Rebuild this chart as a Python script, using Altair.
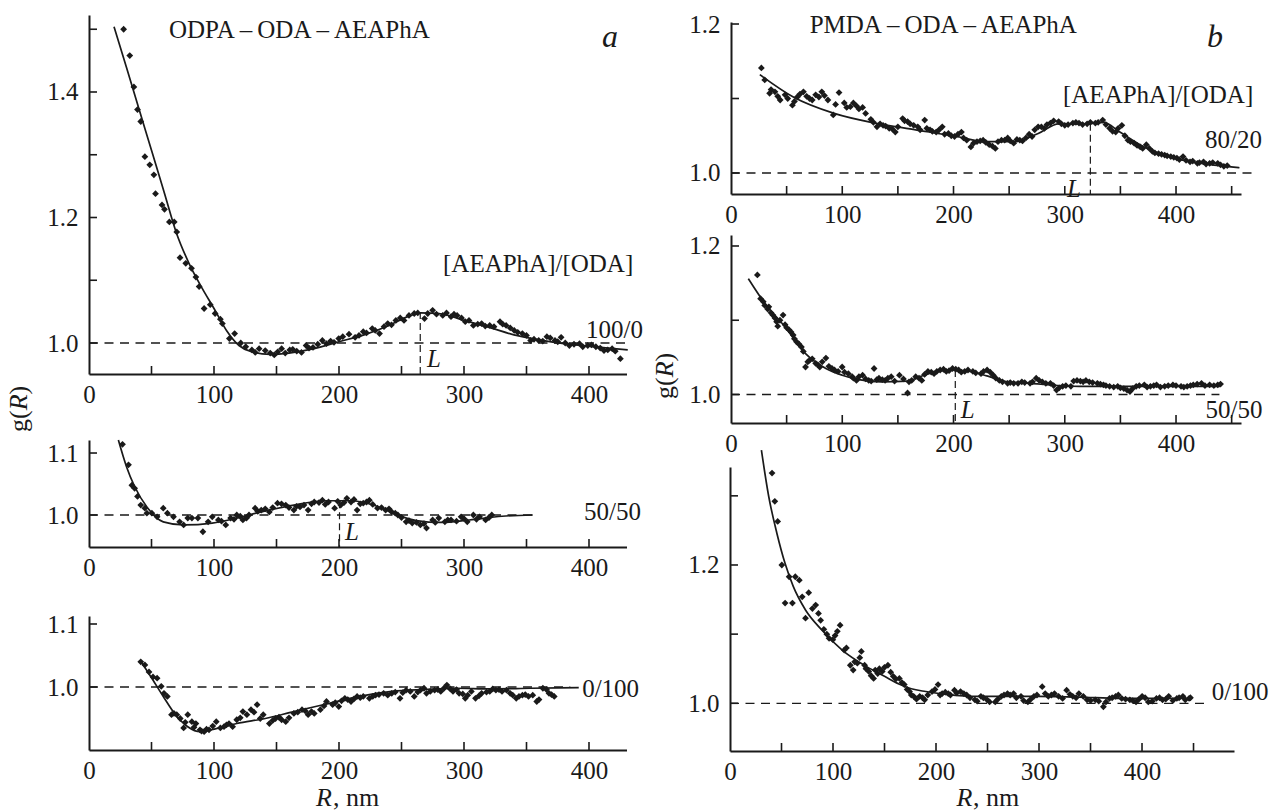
import altair as alt
import pandas as pd

FONT = "Liberation Serif"
INK = "#1a1a1a"
FS = 25
TT = 26
W, H = 1269, 812

XLABELS = [0, 100, 200, 300, 400]

# ---------------- panel a, [AEAPhA]/[ODA] = 100/0 ----------------
a1_R = [27.7, 32.6, 35.9, 38.8, 41.4, 44.7, 48.6, 51.9, 53.2, 58.4, 60.4, 64.3, 68.2, 70.2, 72.8,
        77.4, 82.0, 85.5, 88.1, 92.1, 97.0, 100.9, 105.1, 106.7, 112.3, 116.5, 121.4, 125.4, 130.3,
        136.1, 141.0, 148.2, 154.1, 160.6, 166.2, 173.7, 179.2, 186.7, 193.3, 199.8, 208.0, 212.9,
        219.4, 226.6, 232.4, 239.0, 245.5, 252.0, 260.2, 268.4, 274.9, 283.0, 289.6, 294.5, 301.0,
        307.5, 314.1, 320.6, 328.8, 333.7, 340.2, 346.7, 353.3, 359.8, 366.3, 372.8, 377.7, 384.3,
        392.4, 399.0, 405.5, 412.0, 418.5, 425.1,
        133, 145, 151, 157, 163, 170, 176, 183, 190, 196, 203, 216, 222, 229, 236, 242, 249, 256,
        263, 271, 278, 286, 292, 298, 304, 311, 317, 324, 331, 337, 343, 350, 356, 363, 369, 375,
        381, 388, 395, 402, 409, 415, 421]
a1_g = [1.500, 1.458, 1.408, 1.372, 1.353, 1.297, 1.284, 1.268, 1.238, 1.220, 1.213, 1.193, 1.193,
        1.177, 1.136, 1.127, 1.119, 1.105, 1.090, 1.055, 1.061, 1.047, 1.038, 1.031, 1.007, 1.015,
        1.000, 0.994, 0.989, 0.991, 0.988, 0.981, 0.991, 0.989, 0.987, 0.996, 0.993, 1.004, 1.003,
        1.007, 1.014, 1.009, 1.018, 1.023, 1.015, 1.031, 1.036, 1.036, 1.047, 1.039, 1.052, 1.044,
        1.042, 1.044, 1.034, 1.028, 1.031, 1.028, 1.034, 1.028, 1.020, 1.015, 1.004, 1.004, 1.010,
        1.004, 1.009, 0.996, 0.999, 0.996, 0.994, 0.988, 0.991, 0.975,
        0.985, 0.984, 0.986, 0.984, 0.990, 0.985, 0.992, 0.998, 0.999, 1.001, 1.010, 1.012, 1.016,
        1.020, 1.026, 1.029, 1.040, 1.044, 1.048, 1.047, 1.046, 1.048, 1.046, 1.040, 1.036, 1.030,
        1.027, 1.026, 1.030, 1.024, 1.017, 1.012, 1.006, 1.003, 1.008, 1.002, 1.000, 0.998, 0.994,
        0.997, 0.992, 0.989, 0.987]
a1_fit_R = [20, 30, 40, 50, 60, 70, 80, 90, 100, 110, 120, 130, 145, 160, 180, 200, 220, 240, 255,
            265, 280, 300, 320, 340, 360, 380, 400, 420, 431]
a1_fit_g = [1.504, 1.439, 1.373, 1.307, 1.241, 1.175, 1.127, 1.089, 1.055, 1.020, 0.996, 0.986,
            0.982, 0.984, 0.991, 1.002, 1.013, 1.028, 1.042, 1.048, 1.047, 1.036, 1.025, 1.013,
            1.005, 0.999, 0.995, 0.991, 0.989]

# ---------------- panel a, 50/50 ----------------
a2_R = [26.8, 31.6, 34.3, 36.5, 38.8, 41.4, 44.7, 46.3, 50.3, 54.5, 59.4, 62.7, 67.6, 72.5, 75.7,
        79.0, 82.3, 87.1, 91.1, 95.3, 98.6, 103.5, 109.4, 113.3, 118.2, 123.1, 128.0, 132.9, 137.8,
        144.3, 150.8, 157.4, 163.9, 168.8, 175.3, 180.2, 186.7, 191.6, 196.5, 201.4, 206.3, 209.6,
        214.5, 219.4, 224.3, 230.8, 237.3, 242.2, 247.1, 253.7, 258.6, 265.1, 270.0, 274.9, 279.8,
        284.7, 289.6, 297.7, 302.6, 307.5, 312.4, 317.3, 322.2,
        106, 116, 121, 126, 135, 141, 147, 154, 160, 166, 172, 178, 184, 189, 199, 204, 212, 217,
        222, 227, 234, 240, 245, 250, 256, 262, 268, 277, 287, 294, 300, 310, 320]
a2_g = [1.114, 1.081, 1.048, 1.043, 1.030, 1.016, 1.011, 1.003, 1.003, 0.997, 1.011, 1.003, 0.997,
        0.989, 0.984, 0.995, 0.995, 0.995, 0.973, 0.989, 0.997, 0.992, 0.984, 0.995, 1.000, 0.992,
        1.000, 1.011, 1.008, 1.005, 1.019, 1.016, 1.008, 1.013, 1.008, 1.021, 1.024, 1.021, 1.011,
        1.016, 1.027, 1.021, 1.008, 1.019, 1.024, 1.011, 1.008, 1.005, 1.000, 0.989, 0.987, 0.984,
        0.979, 0.992, 0.995, 0.989, 0.992, 0.997, 0.989, 1.000, 0.997, 0.992, 1.000,
        0.990, 0.993, 0.998, 0.995, 1.006, 1.010, 1.012, 1.018, 1.012, 1.014, 1.016, 1.018, 1.020,
        1.017, 1.022, 1.020, 1.025, 1.018, 1.021, 1.017, 1.012, 1.010, 1.003, 0.996, 0.991, 0.988,
        0.986, 0.988, 0.992, 0.990, 0.994, 0.993, 0.996]
a2_fit_R = [23.5, 30, 36.5, 46.3, 59.4, 75.7, 98.6, 118.2, 137.8, 163.9, 190, 209.6, 229.2, 247.1,
            261.8, 281.4, 304.3, 330.4, 355]
a2_fit_g = [1.121, 1.078, 1.046, 1.013, 0.989, 0.984, 0.987, 0.995, 1.005, 1.016, 1.023, 1.023,
            1.015, 1.000, 0.991, 0.988, 0.992, 0.998, 1.000]

# ---------------- panel a, 0/100 ----------------
a3_R = [41.4, 44.7, 48.0, 51.2, 54.5, 57.8, 62.7, 66.0, 70.2, 75.7, 79.0, 82.3, 85.5, 88.8, 92.1,
        96.0, 101.8, 105.1, 110.0, 114.9, 118.2, 123.1, 126.3, 129.6, 134.5, 139.4, 144.3, 149.2,
        154.1, 157.4, 163.9, 170.4, 175.3, 180.2, 185.1, 190.0, 194.9, 199.8, 204.7, 209.6, 214.5,
        219.4, 224.3, 229.2, 235.7, 242.2, 248.8, 253.7, 260.2, 265.1, 270.0, 276.5, 281.4, 286.3,
        291.2, 296.1, 301.0, 305.9, 309.2, 314.1, 320.6, 325.5, 330.4, 336.9, 341.8, 346.7, 351.6,
        358.2, 363.1, 368.0, 372.2,
        60, 68, 73, 77, 84, 90, 94, 99, 108, 112, 121, 132, 137, 147, 152, 160, 167, 173, 178, 188,
        197, 202, 207, 212, 217, 227, 232, 239, 245, 251, 257, 263, 268, 273, 279, 284, 289, 294,
        299, 303, 312, 318, 323, 328, 334, 339, 344, 349, 355, 360, 366, 370]
a3_g = [1.040, 1.035, 1.024, 1.016, 1.014, 1.001, 0.985, 0.956, 0.956, 0.935, 0.956, 0.945, 0.942,
        0.932, 0.929, 0.932, 0.945, 0.935, 0.940, 0.937, 0.948, 0.961, 0.956, 0.964, 0.972, 0.956,
        0.942, 0.950, 0.948, 0.945, 0.958, 0.964, 0.956, 0.958, 0.964, 0.977, 0.972, 0.969, 0.982,
        0.977, 0.985, 0.985, 0.982, 0.987, 0.990, 0.990, 0.982, 0.995, 0.985, 0.995, 0.990, 0.995,
        0.993, 1.003, 0.993, 0.990, 0.982, 0.993, 0.982, 0.990, 0.993, 0.995, 0.993, 0.990, 0.982,
        0.987, 0.985, 0.977, 0.998, 0.990, 0.985,
        0.990, 0.958, 0.950, 0.944, 0.936, 0.930, 0.933, 0.938, 0.937, 0.942, 0.951, 0.960, 0.950,
        0.947, 0.952, 0.951, 0.960, 0.962, 0.961, 0.970, 0.975, 0.978, 0.980, 0.981, 0.983, 0.985,
        0.988, 0.987, 0.992, 0.991, 0.993, 0.992, 0.998, 0.993, 0.996, 0.998, 0.997, 0.996, 0.989,
        0.987, 0.986, 0.992, 0.997, 0.996, 0.995, 0.987, 0.985, 0.988, 0.987, 0.980, 0.996, 0.988]
a3_fit_R = [40.8, 49.6, 59.4, 69.2, 79, 88.8, 101.8, 118.2, 141, 163.9, 190, 216.1, 242.2, 268.4,
            294.5, 320.6, 353.3, 391.8]
a3_fit_g = [1.043, 1.016, 0.985, 0.956, 0.937, 0.929, 0.934, 0.942, 0.950, 0.961, 0.973, 0.985,
            0.993, 0.996, 0.998, 0.997, 0.998, 0.999]

# ---------------- panel b, 80/20 ----------------
b1_R = [27.3, 30.3, 34.7, 39.5, 44.2, 48.6, 55.2, 59.6, 65.1, 70.6, 76.1, 81.6, 87.1, 91.9, 97.1,
        101.8, 107.3, 112.8, 118.3, 125.7, 131.2, 136.7, 142.2, 147.7, 154.3, 158.7, 164.2, 167.9,
        174.1, 178.9, 184.4, 189.9, 195.4, 200.9, 207.1, 211.9, 215.6, 221.1, 226.6, 232.1, 237.6,
        243.1, 248.7, 254.1, 259.6, 265.1, 270.6, 276.1, 281.7, 287.1, 294.5, 300.0, 307.3, 312.8,
        320.1, 327.5, 334.1, 340.3, 345.8, 351.3, 356.8, 362.3, 367.8, 373.3, 378.8, 384.3, 389.8,
        395.3, 400.8, 406.3, 412.6, 419.2, 424.7, 430.2, 437.5, 443.0,
        36, 42, 51, 57, 62, 68, 73, 79, 84, 94, 104, 110, 115, 121, 128, 134, 139, 145, 150, 156,
        161, 170, 176, 181, 187, 192, 198, 204, 209, 218, 224, 229, 235, 240, 246, 251, 257, 262,
        268, 273, 279, 284, 290, 297, 303, 310, 316, 323, 330, 337, 343, 348, 354, 359, 365, 370,
        376, 381, 387, 392, 398, 403, 409, 415, 421, 427, 433, 440, 446]
b1_g = [1.141, 1.125, 1.107, 1.109, 1.098, 1.105, 1.091, 1.102, 1.109, 1.100, 1.105, 1.109, 1.098,
        1.078, 1.108, 1.094, 1.089, 1.090, 1.088, 1.072, 1.062, 1.064, 1.060, 1.055, 1.073, 1.069,
        1.064, 1.062, 1.071, 1.058, 1.055, 1.062, 1.053, 1.049, 1.055, 1.044, 1.035, 1.042, 1.044,
        1.038, 1.033, 1.044, 1.047, 1.040, 1.044, 1.047, 1.049, 1.062, 1.060, 1.067, 1.069, 1.064,
        1.067, 1.067, 1.066, 1.067, 1.071, 1.060, 1.055, 1.064, 1.044, 1.040, 1.035, 1.038, 1.029,
        1.026, 1.024, 1.022, 1.020, 1.022, 1.015, 1.013, 1.015, 1.013, 1.013, 1.009,
        1.112, 1.103, 1.100, 1.096, 1.106, 1.103, 1.098, 1.102, 1.104, 1.092, 1.088, 1.094, 1.086,
        1.080, 1.068, 1.066, 1.063, 1.059, 1.062, 1.070, 1.066, 1.058, 1.060, 1.056, 1.058, 1.052,
        1.050, 1.052, 1.047, 1.040, 1.043, 1.041, 1.036, 1.042, 1.044, 1.043, 1.045, 1.043, 1.052,
        1.058, 1.062, 1.065, 1.070, 1.066, 1.065, 1.068, 1.065, 1.068, 1.068, 1.065, 1.056, 1.060,
        1.050, 1.042, 1.037, 1.033, 1.033, 1.027, 1.025, 1.023, 1.021, 1.018, 1.017, 1.016, 1.014,
        1.012, 1.014, 1.011, 1.010]
b1_fit_R = [25.9, 56, 92.7, 129.3, 166, 202.7, 228.4, 254.1, 276.1, 294.5, 320.1, 334.8, 349.5,
            371.5, 393.5, 422.9, 444.9, 457]
b1_fit_g = [1.132, 1.102, 1.080, 1.067, 1.058, 1.049, 1.042, 1.042, 1.053, 1.066, 1.066, 1.068,
            1.055, 1.035, 1.022, 1.013, 1.009, 1.007]

# ---------------- panel b, 50/50 ----------------
b2_R = [23.7, 26.6, 30.3, 34.0, 37.6, 39.5, 42.0, 46.8, 48.6, 52.3, 55.9, 58.9, 63.3, 67.0, 70.6,
        76.1, 79.8, 85.3, 90.8, 96.3, 99.9, 105.5, 108.9, 112.8, 118.3, 123.8, 128.6, 133.0, 138.5,
        144.0, 151.4, 158.7, 162.4, 166.0, 171.5, 177.0, 182.5, 188.0, 193.5, 199.1, 204.6, 210.1,
        217.4, 224.7, 230.2, 235.7, 241.2, 248.6, 254.1, 261.4, 268.8, 274.3, 279.8, 287.1, 292.6,
        298.1, 305.5, 311.0, 316.5, 322.0, 329.3, 334.8, 340.3, 347.6, 353.1, 358.6, 364.2, 371.5,
        377.0, 382.5, 389.8, 397.2, 404.5, 410.0, 415.5, 422.9, 430.2, 437.5,
        29, 33, 36, 41, 44, 50, 54, 57, 61, 65, 69, 73, 78, 82, 88, 93, 102, 110, 115, 121, 126,
        131, 136, 141, 147, 155, 160, 169, 174, 180, 185, 191, 196, 202, 207, 213, 220, 227, 233,
        238, 244, 251, 258, 264, 271, 277, 283, 290, 295, 301, 308, 314, 319, 325, 332, 337, 344,
        350, 356, 361, 367, 374, 380, 386, 393, 400, 407, 413, 419, 426, 434, 440]
b2_g = [1.161, 1.129, 1.120, 1.118, 1.107, 1.103, 1.092, 1.107, 1.094, 1.087, 1.080, 1.071, 1.064,
        1.037, 1.046, 1.042, 1.037, 1.049, 1.035, 1.031, 1.037, 1.028, 1.024, 1.019, 1.026, 1.019,
        1.035, 1.022, 1.019, 1.024, 1.026, 1.002, 1.019, 1.024, 1.019, 1.031, 1.028, 1.033, 1.031,
        1.035, 1.033, 1.031, 1.031, 1.028, 1.033, 1.026, 1.019, 1.015, 1.015, 1.017, 1.015, 1.022,
        1.017, 1.015, 1.006, 1.011, 1.011, 1.019, 1.017, 1.017, 1.015, 1.013, 1.011, 1.011, 1.008,
        1.004, 1.011, 1.013, 1.011, 1.013, 1.011, 1.013, 1.011, 1.011, 1.013, 1.015, 1.013, 1.013,
        1.125, 1.115, 1.110, 1.098, 1.100, 1.090, 1.084, 1.075, 1.068, 1.058, 1.044, 1.048, 1.040,
        1.044, 1.038, 1.033, 1.030, 1.022, 1.024, 1.021, 1.018, 1.020, 1.020, 1.022, 1.018, 1.021,
        1.017, 1.022, 1.027, 1.030, 1.031, 1.034, 1.032, 1.034, 1.030, 1.033, 1.029, 1.031, 1.030,
        1.022, 1.017, 1.016, 1.015, 1.016, 1.017, 1.019, 1.015, 1.012, 1.009, 1.012, 1.018, 1.018,
        1.019, 1.016, 1.014, 1.012, 1.010, 1.009, 1.006, 1.008, 1.012, 1.010, 1.012, 1.010, 1.012,
        1.012, 1.010, 1.012, 1.014, 1.012, 1.012, 1.014]
b2_fit_R = [15.6, 30.3, 48.6, 67, 85.3, 100, 115, 135, 158.7, 170, 185, 199, 215, 230, 245, 268.8,
            312.8, 367.8, 439.4]
b2_fit_g = [1.156, 1.123, 1.091, 1.055, 1.035, 1.026, 1.020, 1.017, 1.018, 1.024, 1.031, 1.033,
            1.031, 1.025, 1.018, 1.015, 1.011, 1.011, 1.011]

# ---------------- panel b, 0/100 ----------------
b3_R = [40.8, 43.5, 46.3, 50.3, 53.5, 57.4, 60.6, 63.4, 67.3, 70.1, 73.3, 76.4, 80.0, 83.2, 85.9,
        91.1, 96.2, 99.8, 104.2, 106.9, 110.9, 116.8, 119.6, 123.6, 127.5, 130.7, 134.7, 139.4,
        143.4, 147.8, 153.3, 158.5, 164.4, 169.2, 174.3, 178.3, 184.2, 189.0, 196.1, 202.0, 206.0,
        211.9, 217.9, 223.8, 229.8, 237.7, 243.6, 249.6, 257.5, 263.4, 269.4, 275.3, 282.5, 289.2,
        295.1, 303.1, 309.0, 315.0, 322.9, 326.8, 332.8, 338.7, 346.6, 354.6, 362.5, 368.4, 374.4,
        380.3, 388.2, 394.2, 400.1, 406.1, 414.0, 419.9, 425.9, 433.8, 439.7, 445.7,
        88, 94, 102, 113, 121, 126, 132, 137, 141, 145, 150, 156, 161, 167, 172, 176, 181, 187, 192,
        199, 204, 209, 214, 220, 227, 233, 240, 246, 252, 260, 266, 272, 278, 285, 292, 298, 306,
        312, 319, 330, 336, 343, 350, 358, 365, 371, 377, 384, 391, 397, 403, 410, 417, 423, 430,
        436, 442, 447]
b3_g = [1.333, 1.292, 1.263, 1.200, 1.145, 1.183, 1.145, 1.183, 1.178, 1.154, 1.123, 1.160, 1.137,
        1.142, 1.130, 1.107, 1.094, 1.092, 1.104, 1.113, 1.077, 1.055, 1.048, 1.058, 1.075, 1.055,
        1.046, 1.036, 1.043, 1.046, 1.055, 1.039, 1.036, 1.027, 1.017, 1.010, 1.010, 1.005, 1.017,
        1.027, 1.014, 1.014, 1.019, 1.017, 1.012, 1.005, 1.010, 1.005, 1.002, 1.010, 1.014, 1.014,
        1.010, 1.002, 1.010, 1.024, 1.010, 1.014, 1.007, 1.019, 1.010, 1.014, 1.005, 1.005, 0.995,
        1.007, 1.010, 1.007, 1.005, 1.002, 1.010, 1.002, 1.007, 1.005, 1.010, 1.007, 1.010, 1.007,
        1.120, 1.100, 1.098, 1.080, 1.060, 1.066, 1.050, 1.040, 1.048, 1.050, 1.052, 1.045, 1.035,
        1.030, 1.020, 1.012, 1.006, 1.008, 1.012, 1.020, 1.012, 1.016, 1.012, 1.015, 1.014, 1.008,
        1.003, 1.008, 1.002, 1.006, 1.012, 1.012, 1.008, 1.004, 1.006, 1.012, 1.014, 1.012, 1.010,
        1.013, 1.008, 1.010, 1.004, 1.003, 1.002, 1.008, 1.012, 1.006, 1.004, 1.006, 1.008, 1.003,
        1.008, 1.006, 1.004, 1.008, 1.005, 1.008]
b3_fit_R = [30.5, 37.6, 45.5, 53.5, 61.4, 73.3, 89.1, 108.9, 132.7, 150, 164, 176, 190, 210, 240,
            299.1, 338.7, 378.3, 445.7]
b3_fit_g = [1.366, 1.299, 1.246, 1.202, 1.169, 1.135, 1.106, 1.077, 1.053, 1.039, 1.028, 1.021,
            1.017, 1.013, 1.010, 1.010, 1.009, 1.007, 1.007]


def pairs(a, b):
    return pd.DataFrame(list(zip(a, b)), columns=["R", "g"])


def panel(pR, pg, fR, fg, xdom, ydom, xr, yr, xticks, yticks, ylabels, dash_end,
          L=None, notes=()):
    """xr = [left px, right px], yr = [bottom px, top px] of the panel's plot frame."""
    xs = alt.Scale(domain=xdom, range=xr, nice=False, zero=False)
    ys = alt.Scale(domain=ydom, range=yr, nice=False, zero=False)
    common = dict(ticks=False, tickSize=0, grid=False, title=None, labelFlush=False,
                  labelOverlap=False, domainColor=INK, domainWidth=2, labelFont=FONT,
                  labelFontSize=FS, labelColor=INK, zindex=2)
    xaxis = alt.Axis(orient="bottom", offset=yr[0] - H, values=XLABELS, format="d",
                     labelPadding=8, **common)
    yaxis = alt.Axis(orient="left", offset=-xr[0], values=ylabels, format=".1f",
                     labelPadding=11, **common)

    def X():
        return alt.X("R:Q", scale=xs, axis=xaxis)

    def Y():
        return alt.Y("g:Q", scale=ys, axis=yaxis)

    layers = [
        alt.Chart(pd.DataFrame({"R": [xdom[0]], "R2": [dash_end], "g": [1.0]}))
        .mark_rule(color=INK, strokeWidth=1.3, strokeDash=[9, 6.5])
        .encode(x=X(), x2="R2:Q", y=Y())
    ]
    if L is not None:
        layers.append(
            alt.Chart(pd.DataFrame({"R": [L[0]], "g": [L[1]], "g2": [ydom[0]]}))
            .mark_rule(color=INK, strokeWidth=1.2, strokeDash=[7, 4])
            .encode(x=X(), y=Y(), y2="g2:Q"))
    layers.append(
        alt.Chart(pairs(pR, pg))
        .mark_point(shape="diamond", filled=True, size=46, color=INK, opacity=1)
        .encode(x=X(), y=Y()))
    layers.append(
        alt.Chart(pairs(fR, fg))
        .mark_line(color=INK, strokeWidth=1.7, interpolate="monotone")
        .encode(x=X(), y=Y()))
    # inward tick marks
    layers.append(
        alt.Chart(pd.DataFrame({"R": xticks}))
        .mark_rule(color=INK, strokeWidth=1.6)
        .encode(x=X(), y=alt.value(yr[0]), y2=alt.value(yr[0] - 8)))
    layers.append(
        alt.Chart(pd.DataFrame({"g": yticks}))
        .mark_rule(color=INK, strokeWidth=1.6)
        .encode(y=Y(), x=alt.value(xr[0]), x2=alt.value(xr[0] + 8)))
    for (txt, r, g, align, size, style) in notes:
        layers.append(
            alt.Chart(pd.DataFrame({"R": [r], "g": [g], "t": [txt]}))
            .mark_text(align=align, baseline="alphabetic", fontSize=size, fontStyle=style,
                       font=FONT, color=INK)
            .encode(x=X(), y=Y(), text="t:N"))
    return alt.layer(*layers)


def label(txt, px, py, angle=0, size=TT, style="normal"):
    return (alt.Chart(pd.DataFrame({"t": [txt]}))
            .mark_text(align="left", baseline="alphabetic", angle=angle, fontSize=size,
                       fontStyle=style, font=FONT, color=INK)
            .encode(x=alt.value(px), y=alt.value(py), text="t:N"))


DASH = "\u2009\u2013\u2009"
XT_A = [50, 100, 150, 200, 250, 300, 350, 400]
XT_B = [50, 100, 150, 200, 250, 300, 350, 400, 450]

a1 = panel(a1_R, a1_g, a1_fit_R, a1_fit_g, [0, 430], [0.9506, 1.5227], [89, 626.5], [374, 15],
           XT_A, [1.0, 1.1, 1.2, 1.3, 1.4, 1.5], [1.0, 1.2, 1.4], 430, L=(265, 1.0496),
           notes=[("ODPA" + DASH + "ODA" + DASH + "AEAPhA", 64, 1.486, "left", FS, "normal"),
                  ("a", 416.8, 1.472, "center", 32, "italic"),
                  ("[AEAPhA]/[ODA]", 283.2, 1.1124, "left", FS, "normal"),
                  ("100/0", 397.6, 1.008, "left", FS, "normal"),
                  ("L", 270.4, 0.962, "left", FS, "italic")])

a2 = panel(a2_R, a2_g, a2_fit_R, a2_fit_g, [0, 430], [0.9484, 1.121], [89, 626.5], [547, 440],
           XT_A, [1.0, 1.1], [1.0, 1.1], 355, L=(200.4, 1.022),
           notes=[("50/50", 396, 0.992, "left", FS, "normal"),
                  ("L", 204.8, 0.960, "left", FS, "italic")])

a3 = panel(a3_R, a3_g, a3_fit_R, a3_fit_g, [0, 430], [0.900, 1.1127], [89, 626.5], [750, 616],
           XT_A, [1.0, 1.1], [1.0, 1.1], 385,
           notes=[("0/100", 394.5, 0.984, "left", FS, "normal")])

b1 = panel(b1_R, b1_g, b1_fit_R, b1_fit_g, [0, 458.4], [0.9718, 1.2027], [731, 1241], [194, 22],
           XT_B, [1.0, 1.1, 1.2], [1.0, 1.2], 470, L=(323, 1.066),
           notes=[("PMDA" + DASH + "ODA" + DASH + "AEAPhA", 70.7, 1.188, "left", FS, "normal"),
                  ("b", 435, 1.169, "center", 32, "italic"),
                  ("[AEAPhA]/[ODA]", 298.4, 1.0946, "left", FS, "normal"),
                  ("80/20", 426, 1.0336, "left", FS, "normal"),
                  ("L", 302, 0.968, "left", FS, "italic")])

b2 = panel(b2_R, b2_g, b2_fit_R, b2_fit_g, [0, 458.4], [0.9616, 1.2148], [731, 1241], [423, 235],
           XT_B, [1.0, 1.1, 1.2], [1.0, 1.2], 439, L=(201.6, 1.033),
           notes=[("50/50", 426.5, 0.968, "left", FS, "normal"),
                  ("L", 206.4, 0.968, "left", FS, "italic")])

b3 = panel(b3_R, b3_g, b3_fit_R, b3_fit_g, [0, 489.3], [0.931, 1.3417], [730, 1234], [751, 467],
           XT_B, [1.0, 1.1, 1.2, 1.3], [1.0, 1.2], 463,
           notes=[("0/100", 467.6, 1.005, "left", FS, "normal")])

titles = alt.layer(
    label("g(", 27, 432, 270), label("R", 27, 410.3, 270, style="italic"), label(")", 27, 394.4, 270),
    label("g(", 673, 399, 270), label("R", 673, 377.3, 270, style="italic"), label(")", 673, 361.4, 270),
    label("R", 316, 806, style="italic"), label(", nm", 333, 806),
    label("R", 956.5, 806, style="italic"), label(", nm", 973, 806),
)

chart = (alt.layer(a1, a2, a3, b1, b2, b3, titles)
         .resolve_scale(x="independent", y="independent")
         .properties(width=W, height=H, padding=0,
                     autosize=alt.AutoSizeParams(type="none"))
         .configure(font=FONT, background="white")
         .configure_view(stroke=None))

chart.save("out.html", embed_options={"renderer": "svg", "actions": False})
